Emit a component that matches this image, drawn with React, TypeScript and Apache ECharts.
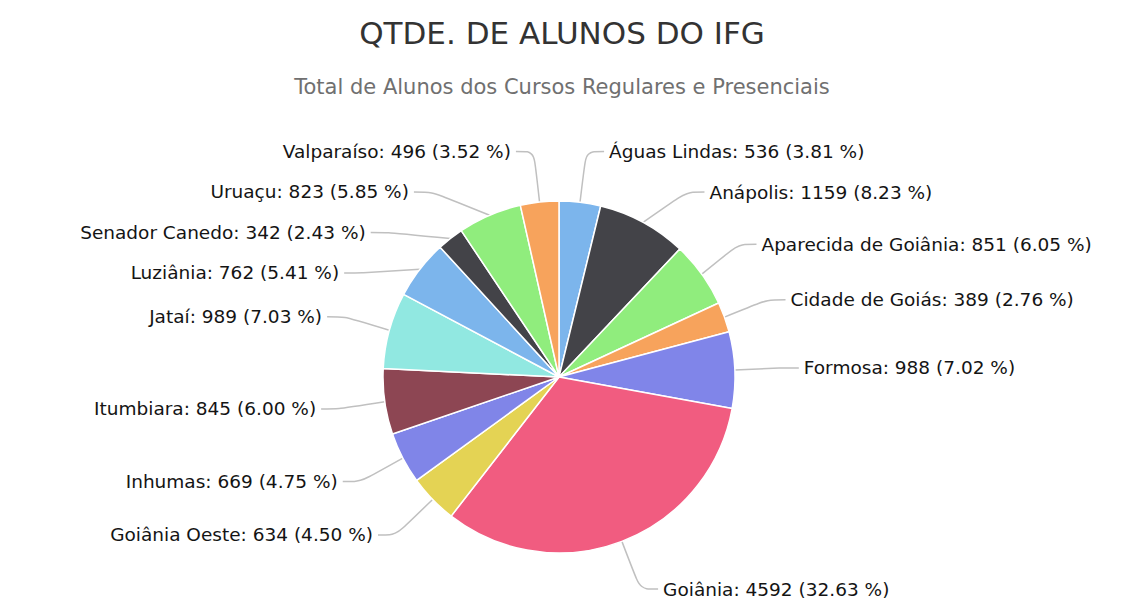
import React, { useEffect, useRef } from "react";
import * as echarts from "echarts";

const categories = [
  "Águas Lindas",
  "Anápolis",
  "Aparecida de Goiânia",
  "Cidade de Goiás",
  "Formosa",
  "Goiânia",
  "Goiânia Oeste",
  "Inhumas",
  "Itumbiara",
  "Jataí",
  "Luziânia",
  "Senador Canedo",
  "Uruaçu",
  "Valparaíso",
];
const values = [536, 1159, 851, 389, 988, 4592, 634, 669, 845, 989, 762, 342, 823, 496];
const colors = [
  "#7cb5ec", "#434348", "#90ed7d", "#f7a35c", "#8085e9", "#f15c80", "#e4d354",
  "#8085e8", "#8d4653", "#91e8e1", "#7cb5ec", "#434348", "#90ed7d", "#f7a35c",
];

export default function App() {
  const ref = useRef<HTMLDivElement>(null);
  useEffect(() => {
    const chart = echarts.init(ref.current!, undefined, { renderer: "svg" });
    const total = values.reduce((a, b) => a + b, 0);
    chart.setOption({
      animation: false,
      backgroundColor: "#ffffff",
      title: {
        text: "QTDE. DE ALUNOS DO IFG",
        subtext: "Total de Alunos dos Cursos Regulares e Presenciais",
        left: "center",
        top: 12,
        itemGap: 28,
        textStyle: { fontFamily: "DejaVu Sans", fontSize: 31, fontWeight: "normal", color: "#333333" },
        subtextStyle: { fontFamily: "DejaVu Sans", fontSize: 21, color: "#707070" },
      },
      series: [
        {
          type: "pie",
          center: [559, 377],
          radius: 176,
          startAngle: 90,
          clockwise: true,
          avoidLabelOverlap: true,
          itemStyle: { borderColor: "#ffffff", borderWidth: 1.5 },
          label: {
            show: true,
            fontFamily: "DejaVu Sans",
            fontSize: 18.5,
            lineHeight: 38.5,
            color: "#141414",
            formatter: (p: any) =>
              `${p.name}: ${p.value} (${((p.value / total) * 100).toFixed(2)} %)`,
          },
          labelLine: {
            show: true,
            length: 51,
            length2: 18,
            smooth: 0.3,
            lineStyle: { color: "#c0c0c0", width: 1.5 },
          },
          data: categories.map((name, i) => ({
            name,
            value: values[i],
            itemStyle: { color: colors[i] },
          })),
        },
      ],
    });
    return () => chart.dispose();
  }, []);
  return (
    <div
      ref={ref}
      style={{ position: "fixed", left: 0, top: 0, width: 1124, height: 610 }}
    />
  );
}
